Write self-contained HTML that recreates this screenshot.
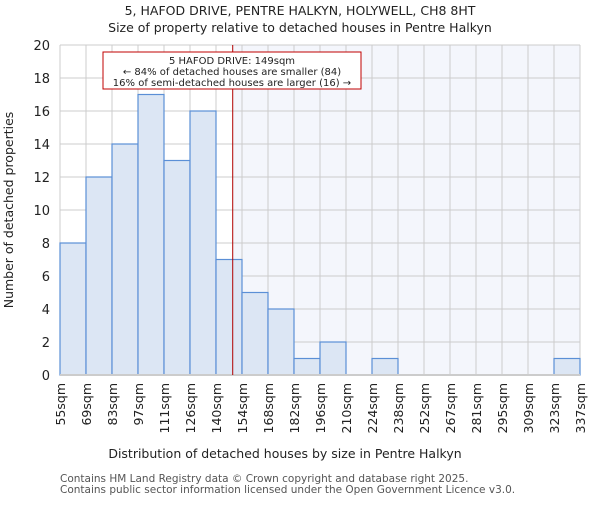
<!DOCTYPE html>
<html><head><meta charset="utf-8"><style>body{margin:0;background:#fff}svg{font-family:"DejaVu Sans","Liberation Sans",sans-serif}</style></head>
<body>
<svg id="c" width="600" height="500" xmlns="http://www.w3.org/2000/svg">
<text x="300" y="15" text-anchor="middle" font-size="12.5" fill="#222">5, HAFOD DRIVE, PENTRE HALKYN, HOLYWELL, CH8 8HT</text>
<text x="300" y="32" text-anchor="middle" font-size="12.5" fill="#222">Size of property relative to detached houses in Pentre Halkyn</text>
<g id="plot"></g>
<text x="285" y="458" text-anchor="middle" font-size="12.5" fill="#222">Distribution of detached houses by size in Pentre Halkyn</text>
<text transform="translate(13,210) rotate(-90)" text-anchor="middle" font-size="12.5" fill="#222">Number of detached properties</text>
<text x="60" y="482" font-size="10.5" fill="#555">Contains HM Land Registry data © Crown copyright and database right 2025.</text>
<text x="60" y="493" font-size="10.5" fill="#555">Contains public sector information licensed under the Open Government Licence v3.0.</text>
</svg>
<script>
const binLabels=["55sqm","69sqm","83sqm","97sqm","111sqm","126sqm","140sqm","154sqm","168sqm","182sqm","196sqm","210sqm","224sqm","238sqm","252sqm","267sqm","281sqm","295sqm","309sqm","323sqm","337sqm"];
const binEdges=[55,69,83,97,111,126,140,154,168,182,196,210,224,238,252,267,281,295,309,323,337];
const counts=[8,12,14,17,13,16,7,5,4,1,2,0,1,0,0,0,0,0,0,1];
const yTicks=[0,2,4,6,8,10,12,14,16,18,20];
const propertySize=149;
const annotLines=["5 HAFOD DRIVE: 149sqm","← 84% of detached houses are smaller (84)","16% of semi-detached houses are larger (16) →"];
const NS="http://www.w3.org/2000/svg";
const X0=60,X1=580,Y0=375,Y1=45,nb=counts.length;
const xi=i=>X0+(X1-X0)*i/nb;
const xv=v=>{let i=0;while(i<nb-1&&v>binEdges[i+1])i++;return xi(i)+(v-binEdges[i])/(binEdges[i+1]-binEdges[i])*(X1-X0)/nb;};
const y=v=>Y0-(Y0-Y1)*v/20;
const g=document.getElementById('plot');
function mk(t,a){const e=document.createElementNS(NS,t);for(const k in a)e.setAttribute(k,a[k]);g.appendChild(e);return e;}
const px=xv(propertySize);
let e=mk('rect',{x:px,y:Y1,width:X1-px,height:Y0-Y1,fill:'#f4f6fc'});


yTicks.forEach(t=>{let l=mk('line',{x1:X0,x2:X1,y1:y(t),y2:y(t),stroke:'#cccccc'});


let tx=mk('text',{x:X0-10,y:y(t)+5,'text-anchor':'end','font-size':13,fill:'#222'});tx.textContent=t;

});
binLabels.forEach((s,i)=>{let l=mk('line',{x1:xi(i),x2:xi(i),y1:Y1,y2:Y0,stroke:'#cccccc'});


let tx=mk('text',{transform:`translate(${xi(i)+5},${Y0+8}) rotate(-90)`,'text-anchor':'end','font-size':12.5,fill:'#222'});tx.textContent=s;

});
counts.forEach((c,i)=>{if(!c)return;let r=mk('rect',{x:xi(i),y:y(c),width:xi(i+1)-xi(i),height:Y0-y(c),fill:'#dce6f4',stroke:'#5b8fd6','stroke-width':1.2});

});
let ax=mk('line',{x1:X0,x2:X1,y1:Y0,y2:Y0,stroke:'#cccccc','stroke-width':2});


let ml=mk('line',{x1:px,x2:px,y1:Y1,y2:Y0,stroke:'#b00000','stroke-width':1});


let bx=mk('rect',{x:103,y:52,width:258,height:37,fill:'#fff',stroke:'#c00000'});


annotLines.forEach((s,i)=>{let t=mk('text',{x:232,y:64+i*11,'text-anchor':'middle','font-size':10,fill:'#222'});t.textContent=s;

});
</script>
</body></html>
